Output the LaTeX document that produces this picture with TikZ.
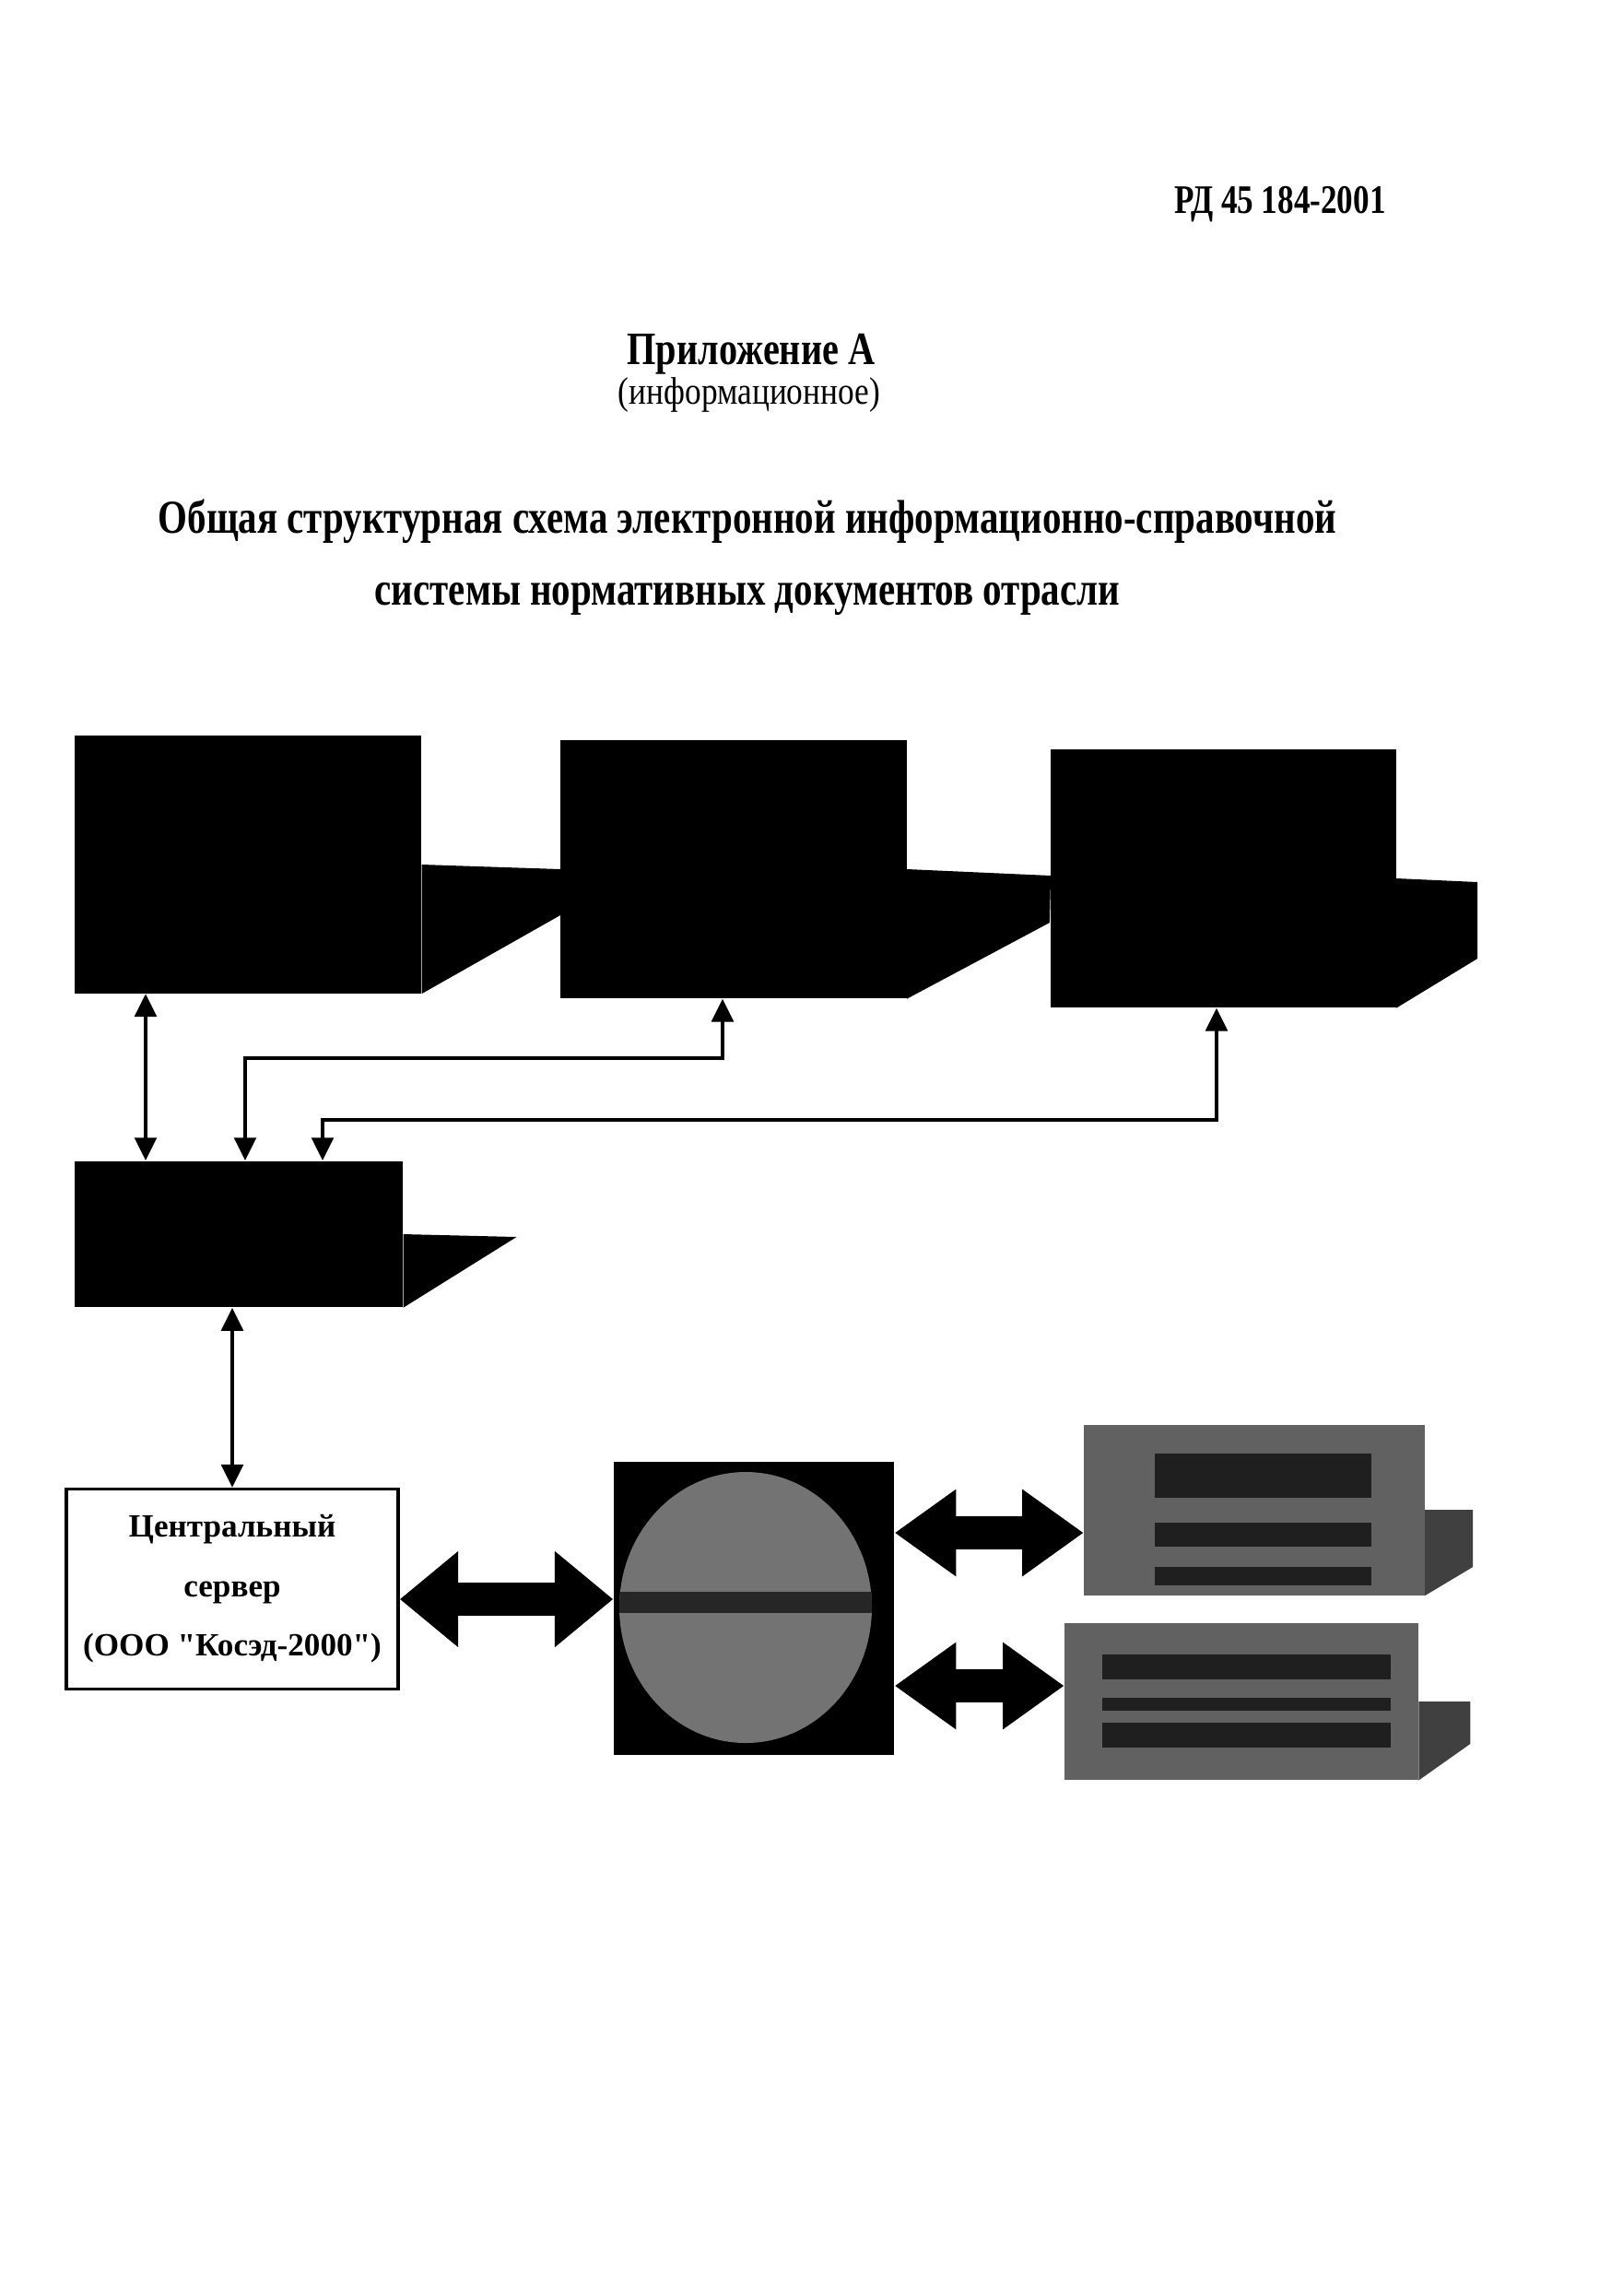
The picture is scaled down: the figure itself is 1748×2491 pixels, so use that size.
\documentclass[tikz,border=0pt]{standalone}
\usepackage{graphicx}
\usepackage{fontspec}
\setmainfont{Liberation Serif}
\usetikzlibrary{arrows.meta}
\newcommand{\narrow}[2][0.8]{\scalebox{#1}[1]{#2}}

\begin{document}
\begin{tikzpicture}[x=0.12mm,y=-0.12mm,
  blk/.style={fill=black,inner sep=0pt},
  gbox/.style={fill=black!62,inner sep=0pt},
  thinarr/.style={line width=1.6pt,{Triangle[length=3mm,width=2.8mm]}-{Triangle[length=3mm,width=2.8mm]}},
  fatarr/.style={line width=4.4mm,{Triangle[length=7.6mm,width=12mm]}-{Triangle[length=7.6mm,width=12mm]}},
  midarr/.style={line width=4.4mm,{Triangle[length=8mm,width=10.8mm]}-{Triangle[length=8mm,width=10.8mm]}}]
  \useasboundingbox (0,0) rectangle (1748,2491);
  % headings
  \node[anchor=base,font=\fontsize{15}{17}\selectfont\bfseries] (docno) at (1389,231) {\narrow{РД 45 184-2001}};
  \node[anchor=base,font=\fontsize{17.2}{19}\selectfont\bfseries] (appx) at (815,395) {\narrow{Приложение А}};
  \node[anchor=base,font=\fontsize{14.2}{16}\selectfont] (appxtype) at (813,438) {\narrow[0.85]{(информационное)}};
  \node[anchor=base,font=\fontsize{17.5}{20}\selectfont\bfseries] (ttl1) at (811,578) {\narrow{Общая структурная схема электронной информационно-справочной}};
  \node[anchor=base,font=\fontsize{17.5}{20}\selectfont\bfseries] (ttl2) at (811,656) {\narrow{системы нормативных документов отрасли}};
  % black blocks
  \node[blk,minimum width=45.1mm,minimum height=33.5mm] (blk1) at (269,938) {};
  \node[blk,minimum width=45mm,minimum height=33.6mm] (blk2) at (796,943) {};
  \node[blk,minimum width=45mm,minimum height=33.6mm] (blk3) at (1327,953) {};
  \fill (blk1.east) -- +(151,5) -- ([yshift=-50*0.12mm]blk2.west) -- (blk1.south east) -- cycle;
  \fill (blk2.east) -- +(156,7) -- ([yshift=-48*0.12mm]blk3.west) -- (blk2.south east) -- cycle;
  \fill (blk3.east) -- +(88,4) -- +(88,87) -- (blk3.south east) -- cycle;
  \node[blk,minimum width=42.7mm,minimum height=19mm] (hub) at (259,1339) {}; \fill (hub.east) -- +(123,3) -- (hub.south east) -- cycle;
  \node[draw,line width=1.2pt,fill=white,minimum width=43.2mm,minimum height=26mm,align=center,font=\fontsize{12}{22}\selectfont\bfseries] (srv) at (252,1724) {Центральный\\сервер\\(ООО \textquotedbl Косэд-2000\textquotedbl)};
  \node[blk,minimum width=36.5mm,minimum height=38.2mm] (net) at (818,1745) {};
  \begin{scope}
    \clip (809,1744) ellipse [x radius=137, y radius=147];
    \fill[black!55] (net.north west) rectangle (net.south east);
    \fill[black!85] (660,1727) rectangle (980,1750);
  \end{scope}
  \node[gbox,minimum width=44.3mm,minimum height=22.2mm] (ru) at (1361,1638) {}; \fill[black!75] (ru.east) -- +(52,0) -- +(52,62) -- (ru.south east) -- cycle;
  \node[gbox,minimum width=46mm,minimum height=20.4mm] (rl) at (1347,1846) {}; \fill[black!75] (rl.east) -- +(56,0) -- +(56,46) -- (rl.south east) -- cycle;
  \foreach \a/\b in {32/80,107/133,155/175} \fill[black!88] ([shift={(77,\a)}]ru.north west) rectangle ([shift={(312,\b)}]ru.north west);
  \foreach \a/\b in {35/62,82/96,109/136} \fill[black!88] ([shift={(41,\a)}]rl.north west) rectangle ([shift={(354,\b)}]rl.north west);
  % connectors
  \coordinate (xa) at (158,0); \coordinate (xb) at (784,0); \coordinate (xc) at (266,0); \coordinate (yb) at (0,1148);
  \coordinate (xd) at (1320,0); \coordinate (xe) at (350,0); \coordinate (yd) at (0,1215);
  \coordinate (ya) at (0,1735); \coordinate (yu) at (0,1663); \coordinate (yl) at (0,1829);
  \draw[thinarr] (blk1.south -| xa) -- (hub.north -| xa);
  \draw[thinarr] (blk2.south -| xb) |- (xc |- yb) -- (hub.north -| xc);
  \draw[thinarr] (blk3.south -| xd) |- (xe |- yd) -- (hub.north -| xe);
  \draw[thinarr] (hub.south -| srv.north) -- (srv.north);
  \draw[fatarr] (srv.east |- ya) -- (net.west |- ya);
  \draw[midarr] (net.east |- yu) -- (ru.west |- yu);
  \draw[midarr] (net.east |- yl) -- (rl.west |- yl);
\end{tikzpicture}
\end{document}
